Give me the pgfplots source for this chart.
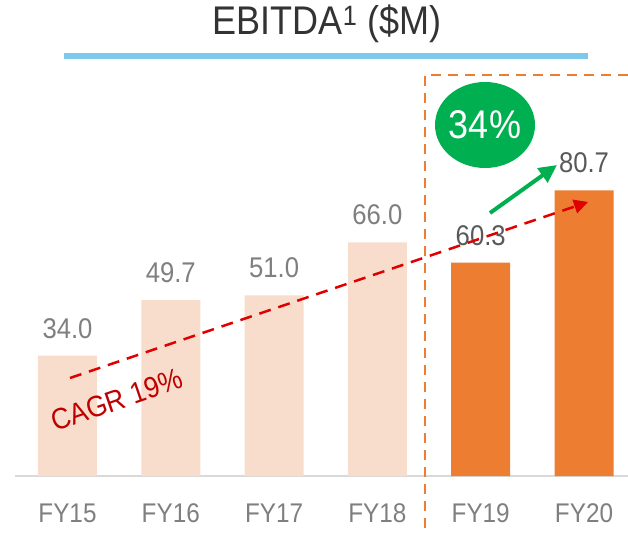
\documentclass[border=0pt]{standalone}
\usepackage{pgfplots}
\pgfplotsset{compat=1.18}
\usepackage{fontspec}
\setmainfont{Liberation Sans}[FakeStretch=0.9]
\usetikzlibrary{arrows.meta}
\definecolor{lightbar}{HTML}{F8DDCC}
\definecolor{orangebar}{HTML}{ED7D31}
\definecolor{greenc}{HTML}{00B050}
\definecolor{bluel}{HTML}{7DC9EC}
\definecolor{redd}{HTML}{E00000}
\definecolor{cagr}{HTML}{C00000}
\definecolor{lbl}{HTML}{7F7F7F}
\definecolor{lbldark}{HTML}{595959}
\definecolor{titlec}{HTML}{333333}
\begin{document}
\begin{tikzpicture}[x=1pt,y=1pt]
\useasboundingbox (0,0) rectangle (628,536);
\begin{axis}[
  at={(15pt,60pt)}, anchor=south west,
  scale only axis, width=613pt, height=400pt,
  xmin=-0.508, xmax=5.426, ymin=0, ymax=113,
  axis x line=bottom, axis y line=none,
  x axis line style={-, draw=black!15, line width=1.5pt},
  ybar, bar width=59pt,
  xtick={0,1,2,3,4,5},
  xticklabels={FY15,FY16,FY17,FY18,FY19,FY20},
  major tick length=0pt,
  xticklabel style={anchor=base, yshift=-46pt, inner sep=0pt, text=lbl, font=\fontsize{27}{30}\selectfont},
  /pgf/number format/.cd, fixed, zerofill, precision=1, assume math mode=true,
  /pgfplots/.cd,
  nodes near coords,
  every node near coord/.append style={anchor=south, inner sep=0pt, yshift=17pt, font=\fontsize{28.5}{30}\selectfont},
  clip=false,
]
\addplot[fill=lightbar, draw=none, bar shift=0pt, every node near coord/.append style={text=lbl}]
  coordinates {(0,34.0) (1,49.7) (2,51.0) (3,66.0)};
\addplot[fill=orangebar, draw=none, bar shift=0pt, every node near coord/.append style={text=lbldark}]
  coordinates {(4,60.3) (5,80.7)};
\end{axis}
% title
\node[text=titlec, font=\fontsize{40}{42}\selectfont, inner sep=0pt] at (327,512.5) {EBITDA\textsuperscript{1} (\$M)};
\draw[bluel, line width=6pt] (64,480) -- (588,480);
% orange dashed box
\draw[orangebar, line width=2.5pt, dash pattern=on 10pt off 7pt] (628,461) -- (425,461) -- (425,2);
% red dashed CAGR arrow
\draw[redd, line width=2.5pt, dash pattern=on 12pt off 8pt, -{Triangle[length=14pt,width=14pt]}] (70,158) -- (588,334);
\node[text=cagr, rotate=19, font=\fontsize{29.5}{31}\selectfont, inner sep=0pt] at (117,136) {CAGR 19\%};
% green ellipse and arrow
\fill[greenc] (485,411) ellipse [x radius=50pt, y radius=43pt];
\node[text=white, font=\fontsize{40}{42}\selectfont, inner sep=0pt] at (485,411) {34\%};
\draw[greenc, line width=4pt, -{Triangle[length=18pt,width=17pt]}] (490,323) -- (557,371);
\end{tikzpicture}
\end{document}
